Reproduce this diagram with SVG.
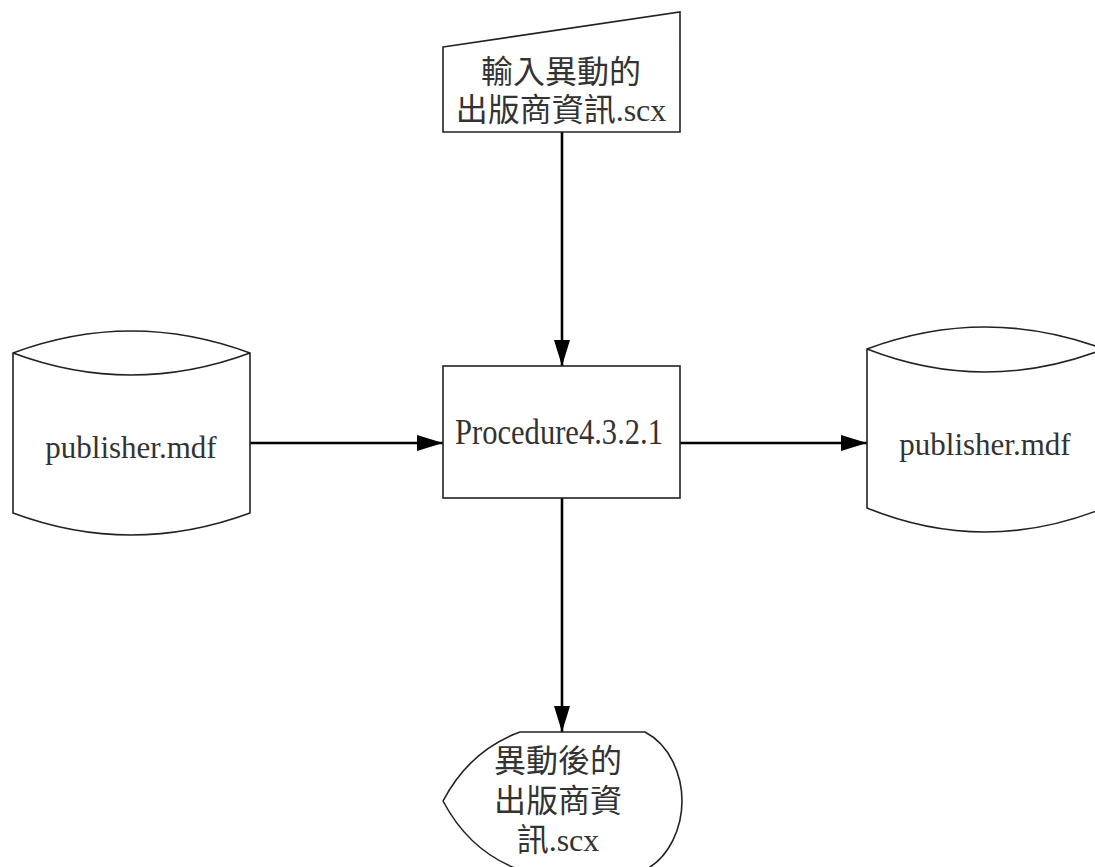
<svg xmlns="http://www.w3.org/2000/svg" width="1095" height="867" viewBox="0 0 1095 867">
<defs>
<style>
.shape{fill:#fff;stroke:#222;stroke-width:1.6}
.conn{fill:none;stroke:#000;stroke-width:2.6}
.t{font-family:"Liberation Serif","Noto Sans CJK TC",serif;font-size:31px;fill:#333;text-anchor:middle}
.c{font-family:"Liberation Serif","Noto Sans CJK TC",serif;font-size:32px;fill:#333;text-anchor:middle}
.p{font-size:35px}
</style>
<marker id="arr" viewBox="0 0 26 16" refX="26" refY="8" markerWidth="26" markerHeight="16" markerUnits="userSpaceOnUse" orient="auto">
<path d="M0,0 L26,8 L0,16 Z" fill="#000"/>
</marker>
</defs>
<rect width="1095" height="867" fill="#fff"/>
<g id="connectors">
<line class="conn" x1="562" y1="132" x2="562" y2="366" marker-end="url(#arr)"/>
<line class="conn" x1="250" y1="443" x2="443" y2="443" marker-end="url(#arr)"/>
<line class="conn" x1="680" y1="443" x2="867" y2="443" marker-end="url(#arr)"/>
<line class="conn" x1="562" y1="498" x2="562" y2="732" marker-end="url(#arr)"/>
</g>
<g id="input">
<path class="shape" d="M443,47 L680,12 L680,132 L443,132 Z"/>
<text class="c" x="561" y="83">輸入異動的</text>
<text class="c" x="561" y="121">出版商資訊.scx</text>
</g>
<g id="procedure">
<rect class="shape" x="443" y="366" width="237" height="132"/>
<text class="t p" x="559" y="444" textLength="208" lengthAdjust="spacingAndGlyphs">Procedure4.3.2.1</text>
</g>
<g id="db-left">
<path class="shape" d="M13,353 Q131,309 250,353 L250,513 Q131,557 13,513 Z"/>
<path class="shape" fill="none" d="M13,353 Q131,397 250,353"/>
<text class="t" x="131" y="458">publisher.mdf</text>
</g>
<g id="db-right">
<path class="shape" d="M867,349 Q985,305 1104,349 L1104,508 Q985,556 867,508 Z"/>
<path class="shape" fill="none" d="M867,349 Q985,395 1104,349"/>
<text class="t" x="985" y="455">publisher.mdf</text>
</g>
<g id="display">
<path class="shape" d="M520,732 L645,732 C670,745 682,775 682,801 C682,827 670,857 645,870 L520,870 Q470,852 443,801 Q470,750 520,732 Z"/>
<text class="c" x="558" y="772">異動後的</text>
<text class="c" x="558" y="812">出版商資</text>
<text class="c" x="558" y="851">訊.scx</text>
</g>
</svg>
